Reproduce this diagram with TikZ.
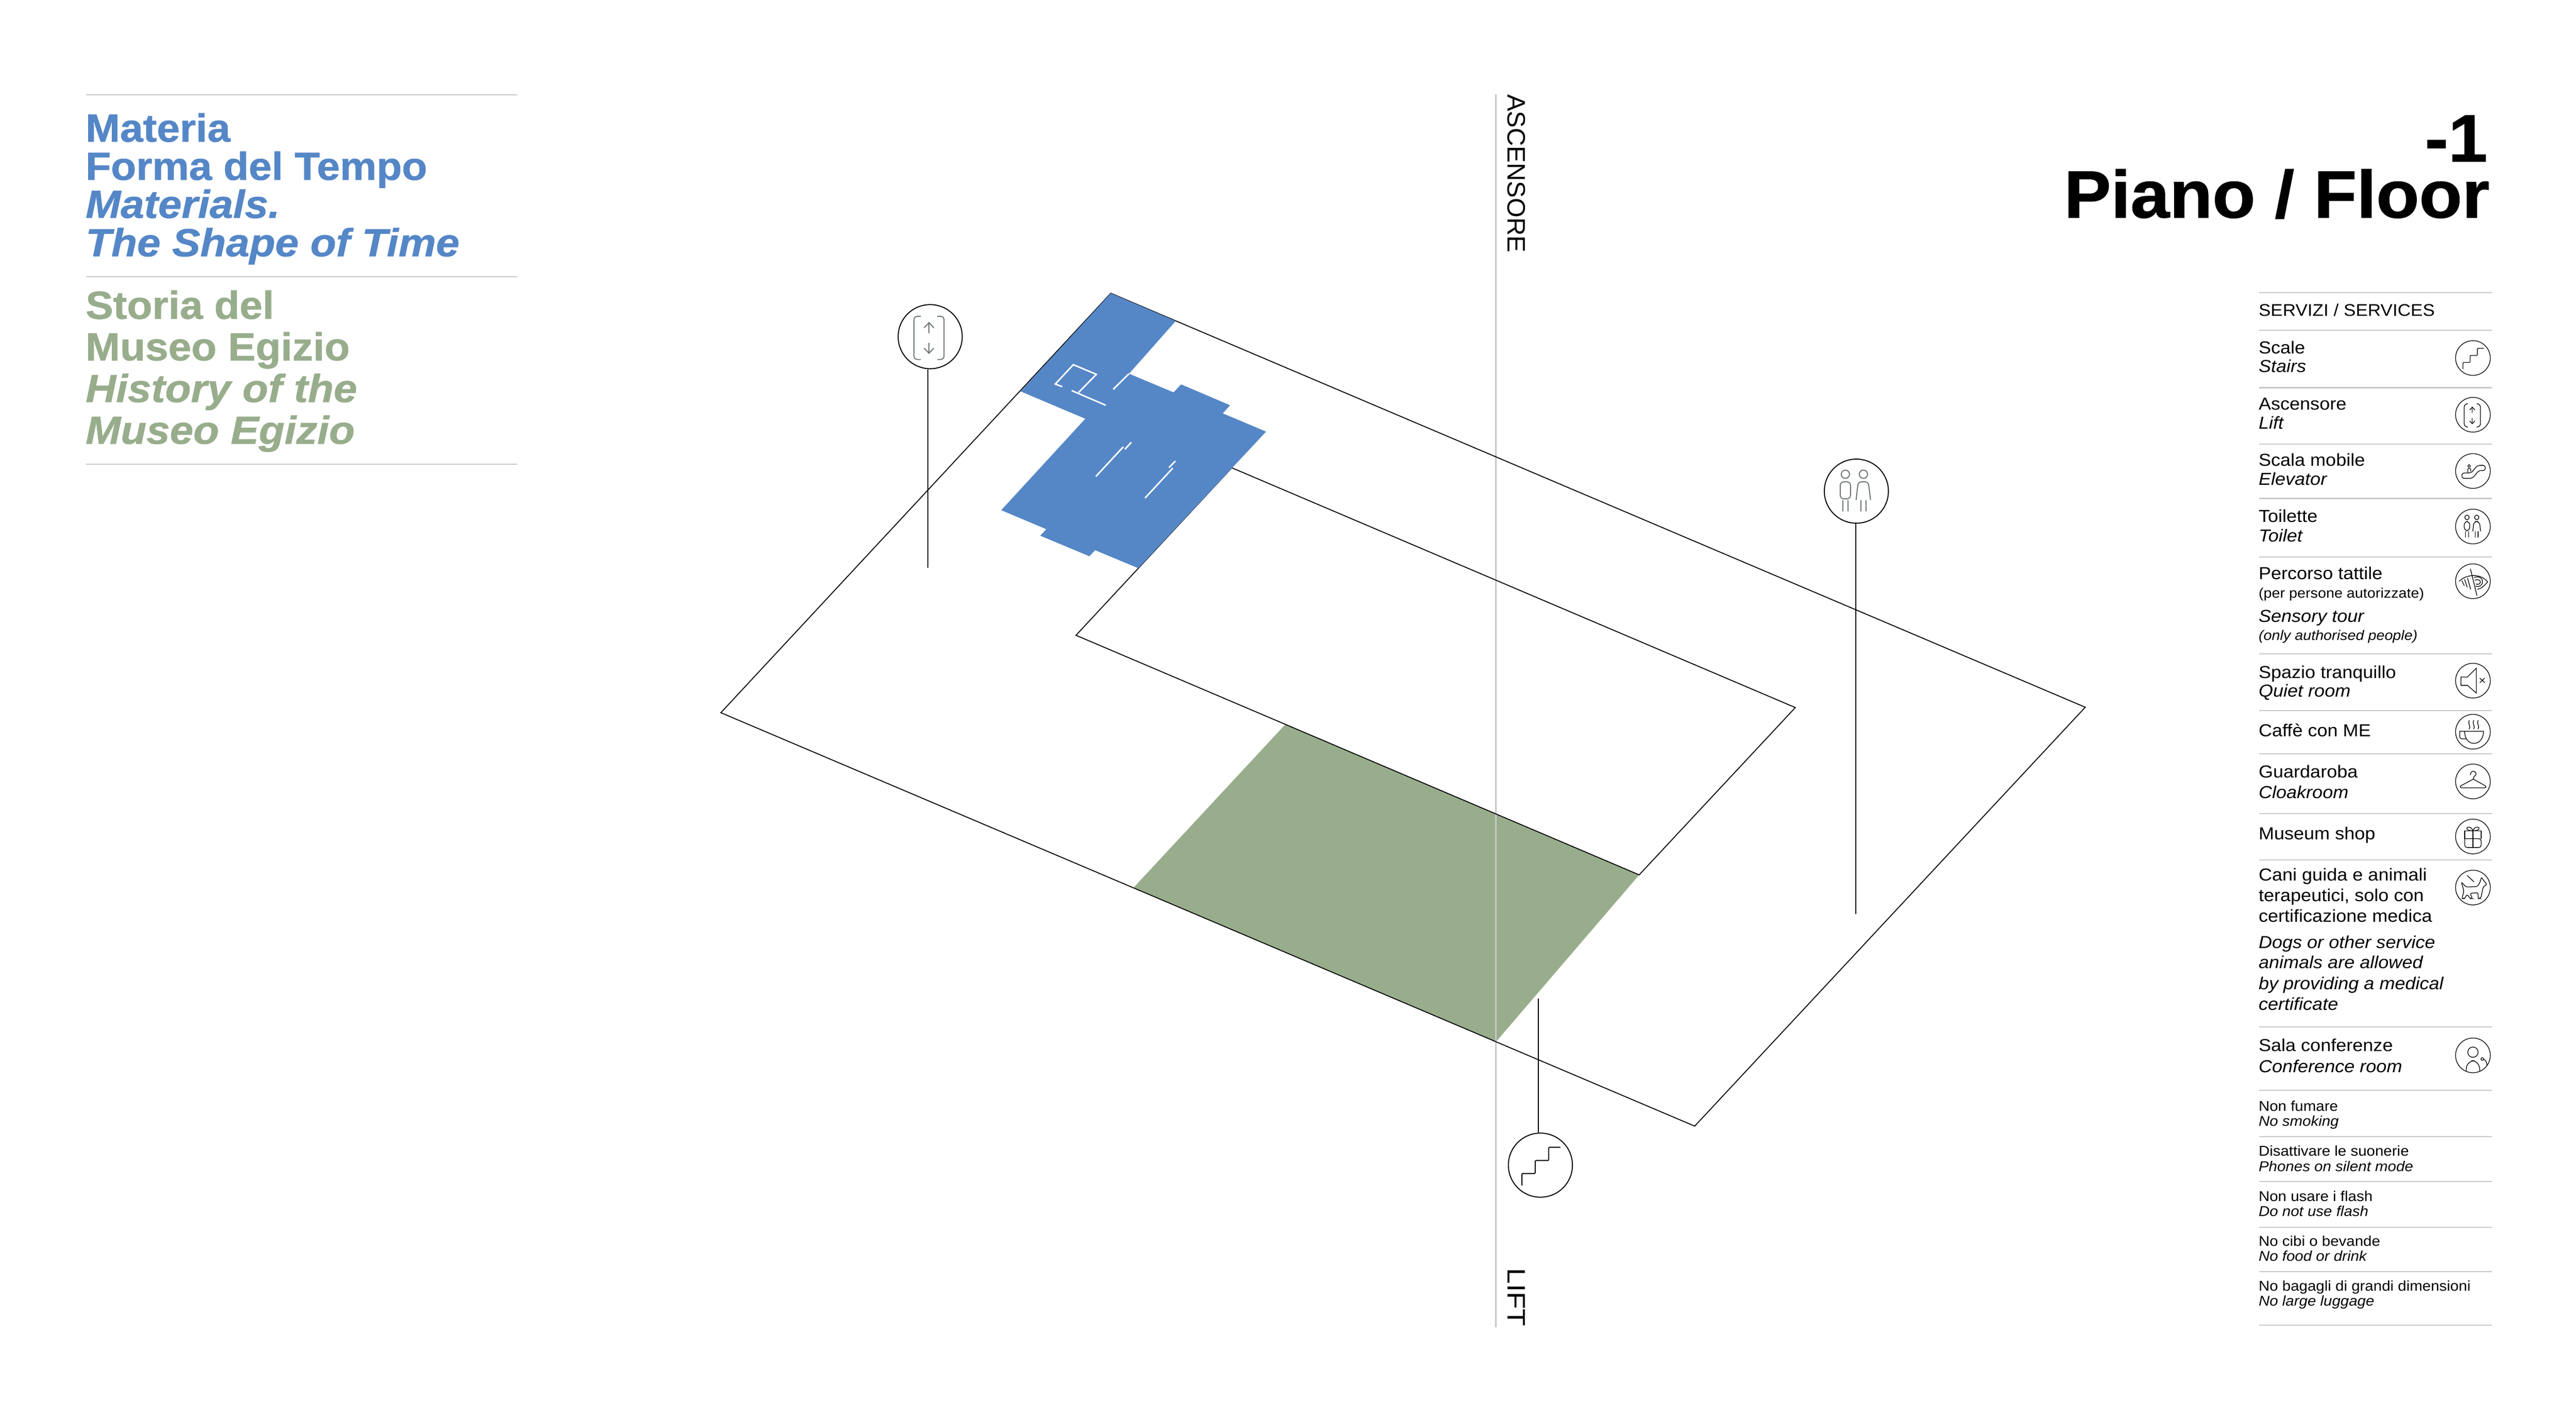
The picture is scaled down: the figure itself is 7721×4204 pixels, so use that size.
\documentclass[tikz,border=0pt]{standalone}
\usepackage{fontspec}
\usetikzlibrary{positioning, arrows.meta}
\setmainfont{Liberation Sans}
\newfontfamily\headfont[FakeStretch=1.055, FakeBold=1]{Liberation Sans}
\newfontfamily\headitfont[FakeStretch=1.075, FakeBold=1]{Liberation Sans}
\newfontfamily\floorfont[FakeStretch=1.05, FakeBold=1]{Liberation Sans}
\newfontfamily\svcfont[FakeStretch=1.07]{Liberation Sans}
\newfontfamily\liftfont[FakeStretch=1.12]{Liberation Sans}
\definecolor{planblue}{HTML}{5587C7}
\definecolor{plangreen}{HTML}{98AD8C}
\definecolor{rulegrey}{HTML}{C8C8C8}
\definecolor{signgrey}{HTML}{6A7272}
\tikzset{
	headblue/.style={anchor=base west, inner sep=0, text=planblue, font=\headfont\bfseries\fontsize{33.4}{36}\selectfont},
	headblueit/.style={headblue, font=\headitfont\bfseries\itshape\fontsize{33.4}{36}\selectfont},
	headgreen/.style={anchor=base west, inner sep=0, text=plangreen, font=\headfont\bfseries\fontsize{33.4}{36}\selectfont},
	headgreenit/.style={headgreen, font=\headitfont\bfseries\itshape\fontsize{33.4}{36}\selectfont},
	floorlabel/.style={anchor=base east, inner sep=0, font=\floorfont\bfseries\fontsize{57}{60}\selectfont},
	shaftlabel/.style={inner sep=0, rotate=-90, font=\fontsize{21.5}{24}\selectfont},
	svc/.style={anchor=base west, inner sep=0, font=\svcfont\fontsize{14.8}{16}\selectfont},
	svcit/.style={svc, font=\svcfont\itshape\fontsize{14.8}{16}\selectfont},
	tiny/.style={svc, font=\svcfont\fontsize{11.8}{14}\selectfont},
	tinyit/.style={svc, font=\svcfont\itshape\fontsize{11.8}{14}\selectfont},
	small/.style={svc, font=\svcfont\fontsize{12.1}{14}\selectfont},
	smallit/.style={svc, font=\svcfont\itshape\fontsize{12.1}{14}\selectfont},
	rulegreyline/.style={draw=rulegrey, line width=3.2*0.2845pt},
	planline/.style={draw=black, line width=2.8*0.2845pt, line join=miter},
	wall/.style={draw=white, line width=4.5*0.2845pt},
	pinnode/.style={draw, circle, inner sep=0, minimum size=19.2mm, line width=3*0.2845pt},
	pinline/.style={draw=black, line width=3*0.2845pt},
	ring/.style={draw, circle, inner sep=0, minimum size=10.4mm, line width=2*0.2845pt},
	signpin/.style={scale=1.85, line width=3*0.2845pt, color=signgrey, line cap=round},
	signsvc/.style={line width=2*0.2845pt, line cap=round},
	stairsign/.pic={
		\draw[rounded corners=0.6pt] (-30,32.5) -- (-30,13.5) -- (-8.4,13.5) -- (-8.4,-7.5) -- (13.4,-7.5) -- (13.4,-29) -- (32,-29);
	},
	liftsign/.pic={
		\draw[rounded corners=3pt] (-15.7,-33) -- (-26.3,-33) -- (-26.3,37) -- (-15.7,37);
		\draw[rounded corners=3pt] (11.9,-33) -- (22.5,-33) -- (22.5,37) -- (11.9,37);
		\draw (-2,-6) -- (-2,-22.7);
		\draw (-9.6,-14.6) -- (-2,-22.7) -- (5.6,-14.6);
		\draw (-2,10.3) -- (-2,26.8);
		\draw (-9.6,18.9) -- (-2,26.8) -- (5.6,18.9);
	},
	toiletsign/.pic={
		\draw (-17.8,-27.4) circle [radius=6.7];
		\draw (11.4,-27.4) circle [radius=6.7];
		\draw[rounded corners=3pt] (-26.1,-15.1) rectangle (-9.5,12.4);
		\draw (-22.2,15.1) -- (-22.2,32.3);
		\draw (-13.5,15.1) -- (-13.5,32.3);
		\draw[rounded corners=2.5pt] (-0.4,13.9) -- (3,-15.1) -- (19.3,-15.1) -- (23,13.9);
		\draw (7,15.1) -- (7,32.3);
		\draw (15.7,15.1) -- (15.7,32.3);
	},
	escalatorsign/.pic={
		\draw[rounded corners=1.8pt] (-33,6) -- (-5.2,6) -- (13.8,-17) -- (37,-17) -- (37,-1.5) -- (17.8,-1.5) -- (-1.7,22) -- (-33,22) -- cycle;
		\draw (-11.5,-15) circle [radius=3.6];
		\draw[rounded corners=1pt] (-15.5,5) -- (-15.5,-8) -- (-6.5,-8) -- (-6.5,1);
	},
	eyesign/.pic={
		\draw (-7.5,-37) -- (12,43);
		\draw (-41,0) .. controls (-22,-20) and (22,-26) .. (44,2) .. controls (32,16) and (24,22) .. (14,24);
		\draw (4,-11) .. controls (20,-18) and (32,-6) .. (28,6) .. controls (26,14) and (16,18) .. (8,15);
		\draw (6,-3) .. controls (16,-8) and (24,-2) .. (22,4) .. controls (20,9) and (14,11) .. (9,8);
		\draw (-33,-1) -- (-26,13);
		\draw (-25,-5) -- (-17,18);
		\draw (-16,-9) -- (-7,24);
	},
	speakersign/.pic={
		\draw (-36,-11) -- (-16.5,-11) -- (10,-37.5) -- (10,37) -- (-16.5,14) -- (-36,14) -- cycle;
		\draw (20.7,-7.6) -- (35,6.1);
		\draw (35,-7.6) -- (20.7,6.1);
	},
	cupsign/.pic={
		\draw (-39.6,-1.5) -- (31.6,-1.5) .. controls (31.6,22) and (18,35) .. (3,35) .. controls (-12,35) and (-25,22) .. (-25,-1.5);
		\draw (-39.6,-1.5) -- (-39.6,14) .. controls (-39.6,19) and (-36,21.5) .. (-33,21.5) -- (-19,21.5);
		\draw (-11,-34) .. controls (-17,-27) and (-5,-15) .. (-11,-8);
		\draw (2.3,-34) .. controls (-3.7,-27) and (8.3,-15) .. (2.3,-8);
		\draw (15.5,-34) .. controls (9.5,-27) and (21.5,-15) .. (15.5,-8);
	},
	hangersign/.pic={
		\draw (-7.5,-20) .. controls (-7.5,-34) and (11,-34) .. (9,-21) .. controls (8,-16) and (1.1,-16) .. (1.1,-7);
		\draw (1.1,-7) -- (37,13) .. controls (40,15) and (40,19) .. (36,19) -- (-35,19) .. controls (-39,19) and (-39,15) .. (-36,13) -- (1.1,-7);
	},
	giftsign/.pic={
		\draw[rounded corners=2pt] (-24.7,6.5) -- (-24.7,33) -- (24.7,33) -- (24.7,6.5) -- (-24.7,6.5);
		\draw (-24.7,6.5) -- (-24.7,-17) -- (24.7,-17) -- (24.7,6.5);
		\draw (0,-17) -- (0,33);
		\draw (0,-17) .. controls (-4,-30) and (-20,-32) .. (-18,-23) .. controls (-17,-19) and (-6,-17) .. (0,-17);
		\draw (0,-17) .. controls (4,-30) and (20,-32) .. (18,-23) .. controls (17,-19) and (6,-17) .. (0,-17);
	},
	dogsign/.pic={
		\draw[rounded corners=1.5pt] (-35,-17) -- (-20.7,-1.5) -- (13.8,-3) -- (22.4,-18.4) -- (25.3,-32) -- (32,-21) -- (42.5,-9) -- (31,-3) -- (23.5,33) -- (15.5,33) -- (15.5,15) -- (-9,17.6) -- (-1,33) -- (-8,33) -- (-18,20) -- (-24,33) -- (-33,33) -- (-27,10) -- cycle;
		\draw (-17,-36) -- (3,-17);
	},
	speakerpersonsign/.pic={
		\draw (0,-9.6) ellipse [x radius=15.5, y radius=15.5];
		\draw[rounded corners=7pt] (-20,48) -- (-20,16) -- (20,16) -- (20,48);
		\draw (28,11) circle [radius=4];
		\draw (32,11) .. controls (38,14) and (42,22) .. (42,30);
	},
}

\begin{document}
\begin{tikzpicture}[>=stealth, x=0.01cm, y=-0.01cm]
	\useasboundingbox (0,0) rectangle (7721,4204);

	\fill[plangreen] (3852.6,2171) -- (4913,2622) -- (4484,3122) -- (3398,2660) -- cycle;
	\draw[draw=rulegrey, line width=5*0.2845pt] (4483,282) -- (4483,3978);
	\draw[planline] (3329.5,879) -- (6250,2119.6) -- (5079.5,3375) -- (2160.6,2136) -- cycle;
	\draw[planline] (3692,1402) -- (5381,2120.6) -- (4913,2622) -- (3225,1904) -- cycle;

	\fill[planblue] (3329.5,879) -- (3524,962) -- (3384,1120) -- (3517.5,1176) -- (3540,1152) -- (3686.7,1214.5) -- (3665,1239) -- (3794.7,1293.6) -- (3412,1703) -- (3282.5,1649) -- (3265,1667) -- (3118,1605.5) -- (3136,1586) -- (3001,1529) -- (3253,1255) -- (3059,1173) -- cycle;
	\draw[wall] (3184,1159) -- (3163,1151) -- (3217,1093) -- (3286,1122) -- (3233,1176);
	\draw[wall] (3212,1170.5) -- (3314,1214.5);
	\draw[wall] (3336.5,1167) -- (3384,1120);
	\draw[wall] (3284.5,1428) -- (3367,1339);
	\draw[wall] (3371.6,1346.5) -- (3391,1325.5);
	\draw[wall] (3432,1492.6) -- (3515,1403);
	\draw[wall] (3503.5,1401.4) -- (3523,1382);

	\node[pinnode] (pinlift) at (2788,1009) {};
	\pic[signpin] at (pinlift) {liftsign};
	\coordinate (liftend) at (2781,1701);
	\draw[pinline] (liftend) -- (liftend |- pinlift.south);

	\node[pinnode] (pintoilet) at (5564,1472) {};
	\pic[signpin] at (pintoilet) {toiletsign};
	\coordinate (toiletend) at (5562.5,2739);
	\draw[pinline] (toiletend) -- (toiletend |- pintoilet.south);

	\node[pinnode] (pinstairs) at (4617,3492) {};
	\pic[signpin, color=black] at (pinstairs) {stairsign};
	\coordinate (stairsend) at (4611,2993);
	\draw[pinline] (stairsend) -- (stairsend |- pinstairs.north);

	\node[shaftlabel, anchor=base west] (shaftup) at (4518.5,282) {ASCENSORE};
	\node[shaftlabel, anchor=base east, font=\liftfont\fontsize{21.5}{24}\selectfont] (shaftdown) at (4518.5,3976) {LIFT};

	\draw[rulegreyline] (258,284) -- (1550,284);
	\node[headblue] (titlea) at (256,424.5) {Materia};
	\node[headblue] (titleb) at (256,539) {Forma del Tempo};
	\node[headblueit] (titlec) at (256,653) {Materials.};
	\node[headblueit] (titled) at (256,768) {The Shape of Time};
	\draw[rulegreyline] (258,829) -- (1550,829);
	\node[headgreen] (storya) at (256,955.5) {Storia del};
	\node[headgreen] (storyb) at (256,1080) {Museo Egizio};
	\node[headgreenit] (storyc) at (256,1205) {History of the};
	\node[headgreenit] (storyd) at (256,1330) {Museo Egizio};
	\draw[rulegreyline] (258,1391.5) -- (1550,1391.5);

	\node[floorlabel] (floornum) at (7456,484) {-1};
	\node[floorlabel] (floorname) at (7462,652) {Piano / Floor};

	\draw[rulegreyline] (6771,877) -- (7469,877);
	\node[svc, font=\svcfont\fontsize{14.4}{16}\selectfont] (servizi) at (6769,947) {SERVIZI / SERVICES};
	\draw[rulegreyline] (6771,990) -- (7469,990);
	\node[svc] (scale) at (6769,1060) {Scale};
	\node[svcit] (stairs) at (6769,1115.5) {Stairs};
	\node[ring] (ringstairs) at (7412,1073) {};
	\pic[signsvc] at (ringstairs) {stairsign};
	\draw[rulegreyline] (6771,1162) -- (7469,1162);
	\node[svc] (ascensore) at (6769,1229) {Ascensore};
	\node[svcit] (lift) at (6769,1286) {Lift};
	\node[ring] (ringlift) at (7412,1243) {};
	\pic[signsvc] at (ringlift) {liftsign};
	\draw[rulegreyline] (6771,1330.5) -- (7469,1330.5);
	\node[svc] (scalamobile) at (6769,1397) {Scala mobile};
	\node[svcit] (elevator) at (6769,1454) {Elevator};
	\node[ring] (ringelevator) at (7412,1411.6) {};
	\pic[signsvc] at (ringelevator) {escalatorsign};
	\draw[rulegreyline] (6771,1494) -- (7469,1494);
	\node[svc] (toilette) at (6769,1565) {Toilette};
	\node[svcit] (toilet) at (6769,1623) {Toilet};
	\node[ring] (ringtoilet) at (7412,1578) {};
	\pic[signsvc] at (ringtoilet) {toiletsign};
	\draw[rulegreyline] (6771,1669) -- (7469,1669);
	\node[svc] (percorso) at (6769,1737) {Percorso tattile};
	\node[tiny] (persone) at (6769,1792.6) {(per persone autorizzate)};
	\node[svcit] (sensory) at (6769,1864) {Sensory tour};
	\node[tinyit] (people) at (6769,1919) {(only authorised people)};
	\node[ring] (ringsensory) at (7412,1742) {};
	\pic[signsvc] at (ringsensory) {eyesign};
	\draw[rulegreyline] (6771,1960) -- (7469,1960);
	\node[svc] (spazio) at (6769,2033) {Spazio tranquillo};
	\node[svcit] (quiet) at (6769,2088) {Quiet room};
	\node[ring] (ringquiet) at (7412,2040) {};
	\pic[signsvc] at (ringquiet) {speakersign};
	\draw[rulegreyline] (6771,2130) -- (7469,2130);
	\node[svc] (caffe) at (6769,2207) {Caffè con ME};
	\node[ring] (ringcaffe) at (7412,2193) {};
	\pic[signsvc] at (ringcaffe) {cupsign};
	\draw[rulegreyline] (6771,2259) -- (7469,2259);
	\node[svc] (guardaroba) at (6769,2330.5) {Guardaroba};
	\node[svcit] (cloakroom) at (6769,2393) {Cloakroom};
	\node[ring] (ringcloak) at (7412,2342) {};
	\pic[signsvc] at (ringcloak) {hangersign};
	\draw[rulegreyline] (6771,2438) -- (7469,2438);
	\node[svc] (shop) at (6769,2517) {Museum shop};
	\node[ring] (ringshop) at (7412,2507) {};
	\pic[signsvc] at (ringshop) {giftsign};
	\draw[rulegreyline] (6771,2577) -- (7469,2577);
	\node[svc] (cania) at (6769,2639.5) {Cani guida e animali};
	\node[svc] (canib) at (6769,2701.6) {terapeutici, solo con};
	\node[svc] (canic) at (6769,2763) {certificazione medica};
	\node[svcit] (dogsa) at (6769,2841.6) {Dogs or other service};
	\node[svcit] (dogsb) at (6769,2903) {animals are allowed};
	\node[svcit] (dogsc) at (6769,2965.6) {by providing a medical};
	\node[svcit] (dogsd) at (6769,3027) {certificate};
	\node[ring] (ringdogs) at (7412,2660) {};
	\pic[signsvc] at (ringdogs) {dogsign};
	\draw[rulegreyline] (6771,3077) -- (7469,3077);
	\node[svc] (sala) at (6769,3151) {Sala conferenze};
	\node[svcit] (conference) at (6769,3214) {Conference room};
	\node[ring] (ringsala) at (7412,3163) {};
	\pic[signsvc] at (ringsala) {speakerpersonsign};
	\draw[rulegreyline] (6771,3267.5) -- (7469,3267.5);
	\node[small] (fumare) at (6769,3330.6) {Non fumare};
	\node[smallit] (smoking) at (6769,3375) {No smoking};
	\draw[rulegreyline] (6771,3406) -- (7469,3406);
	\node[small] (suonerie) at (6769,3464.5) {Disattivare le suonerie};
	\node[smallit] (silent) at (6769,3510) {Phones on silent mode};
	\draw[rulegreyline] (6771,3541) -- (7469,3541);
	\node[small] (usare) at (6769,3600) {Non usare i flash};
	\node[smallit] (flash) at (6769,3645) {Do not use flash};
	\draw[rulegreyline] (6771,3678) -- (7469,3678);
	\node[small] (cibi) at (6769,3734) {No cibi o bevande};
	\node[smallit] (food) at (6769,3779) {No food or drink};
	\draw[rulegreyline] (6771,3811) -- (7469,3811);
	\node[small] (bagagli) at (6769,3869.5) {No bagagli di grandi dimensioni};
	\node[smallit] (luggage) at (6769,3914) {No large luggage};
	\draw[rulegreyline] (6771,3971) -- (7469,3971);
\end{tikzpicture}
\end{document}
